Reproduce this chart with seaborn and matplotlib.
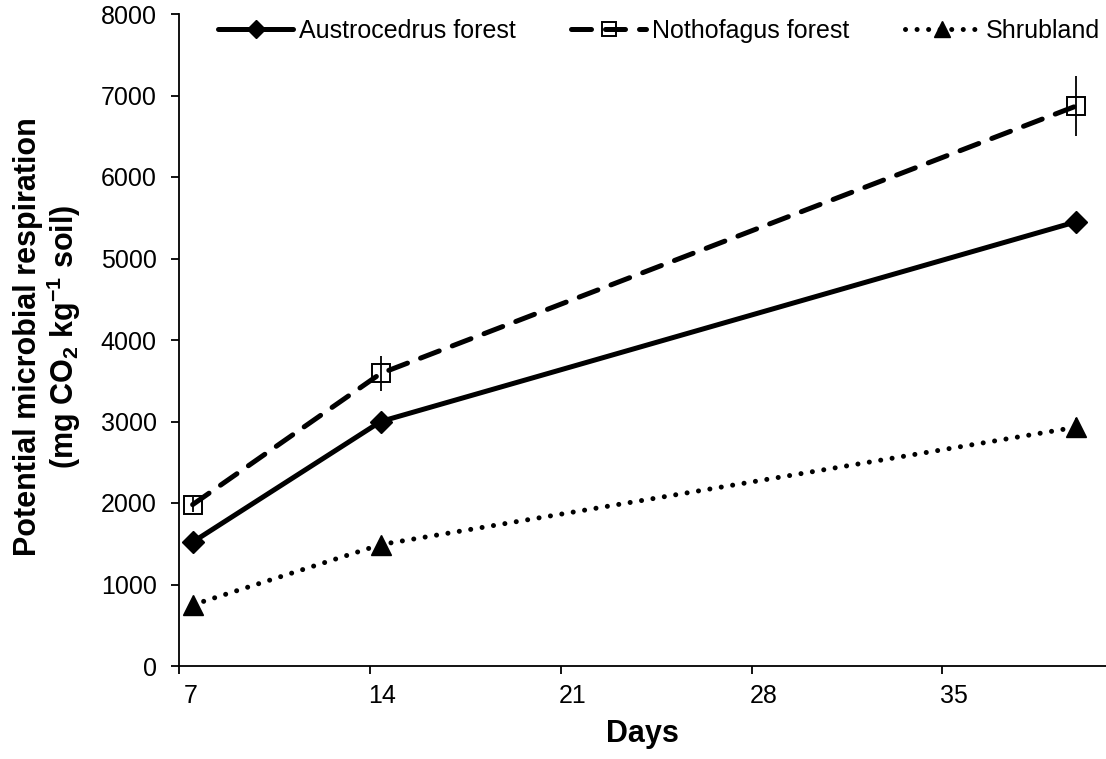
import matplotlib
matplotlib.use("Agg")
import matplotlib.pyplot as plt
import matplotlib.transforms as mtransforms
import seaborn as sns
import pandas as pd

# ---- data ----
days = [7.5, 14.4, 39.9]
series_names = ["Austrocedrus forest", "Nothofagus forest", "Shrubland"]
austrocedrus = [1520, 3000, 5450]
nothofagus = [1980, 3590, 6870]
shrubland = [750, 1490, 2930]
austrocedrus_err = [40, 60, 110]
nothofagus_err = [90, 210, 370]
shrubland_err = [30, 50, 110]
x_ticks = [7, 14, 21, 28, 35]
y_ticks = [0, 1000, 2000, 3000, 4000, 5000, 6000, 7000, 8000]

sns.set_theme(style="ticks")
plt.rcParams["font.family"] = ["Liberation Sans", "DejaVu Sans"]
plt.rcParams["mathtext.fontset"] = "custom"
plt.rcParams["mathtext.rm"] = "Liberation Sans:bold"
plt.rcParams["mathtext.default"] = "rm"
plt.rcParams["text.color"] = "black"
plt.rcParams["axes.labelcolor"] = "black"

fig = plt.figure(figsize=(11.06, 7.59), dpi=100)
ax = fig.add_axes([179 / 1106, 93 / 759, (1106 - 179) / 1106, (666 - 14) / 759])

values = {
    series_names[0]: austrocedrus,
    series_names[1]: nothofagus,
    series_names[2]: shrubland,
}
errors = {
    series_names[0]: austrocedrus_err,
    series_names[1]: nothofagus_err,
    series_names[2]: shrubland_err,
}
rows = []
for name in series_names:
    for d, v in zip(days, values[name]):
        rows.append({"Days": d, "Resp": v, "Series": name})
df = pd.DataFrame(rows)

styles = {
    series_names[0]: dict(linestyle="-", marker="D", markersize=11, markerfacecolor="black",
                          markeredgecolor="black", linewidth=3.6),
    series_names[1]: dict(linestyle=(0, (4.0, 2.8)), marker="s", markersize=13,
                          markerfacecolor="none", markeredgecolor="black", markeredgewidth=1.4,
                          linewidth=3.6),
    series_names[2]: dict(linestyle=(0, (0.01, 2.3)), marker="^", markersize=14,
                          markerfacecolor="black", markeredgecolor="black", linewidth=3.6),
}

for name in series_names:
    sub = df[df["Series"] == name]
    ax.errorbar(sub["Days"], sub["Resp"], yerr=errors[name], fmt="none",
                ecolor="black", elinewidth=1.3, capsize=0, zorder=2)
    st = styles[name]
    sns.lineplot(data=sub, x="Days", y="Resp", ax=ax, color="black", label=name,
                 linestyle=st["linestyle"], linewidth=st["linewidth"], marker=st["marker"],
                 markersize=st["markersize"], markerfacecolor=st["markerfacecolor"],
                 markeredgecolor=st["markeredgecolor"],
                 markeredgewidth=st.get("markeredgewidth", 1.0),
                 dash_capstyle="round", zorder=3)

ax.set_xlim(7, 41)
ax.set_ylim(0, 8000)
ax.set_xticks(x_ticks)
ax.set_xticklabels([str(t) for t in x_ticks])
ax.set_yticks(y_ticks)
ax.set_yticklabels([str(t) for t in y_ticks])

for side in ["top", "right"]:
    ax.spines[side].set_visible(False)
for side in ["left", "bottom"]:
    ax.spines[side].set_linewidth(1.3)
    ax.spines[side].set_color("black")

ax.tick_params(axis="both", direction="out", length=6, width=1.3, color="black",
               labelsize=18, labelcolor="black")
ax.tick_params(axis="y", pad=10)
ax.tick_params(axis="x", pad=7)
offset = mtransforms.ScaledTranslation(12 / 100, 0, fig.dpi_scale_trans)
for lbl in ax.get_xticklabels():
    lbl.set_transform(lbl.get_transform() + offset)

ax.set_xlabel("Days", fontsize=22, fontweight="bold", labelpad=8)
ax.set_ylabel("Potential microbial respiration\n(mg CO$_2$ kg$^{-1}$ soil)",
              fontsize=22, fontweight="bold", linespacing=1.05)
ax.yaxis.set_label_coords(-0.104, 0.505)

leg = ax.legend(loc="center", bbox_to_anchor=(0.596, 0.959), bbox_transform=fig.transFigure,
                ncol=3, frameon=False, fontsize=18, handlelength=3.0, handletextpad=0.25,
                columnspacing=2.2, numpoints=1, markerscale=0.8)

fig.savefig("out.png", dpi=100, facecolor="white")
